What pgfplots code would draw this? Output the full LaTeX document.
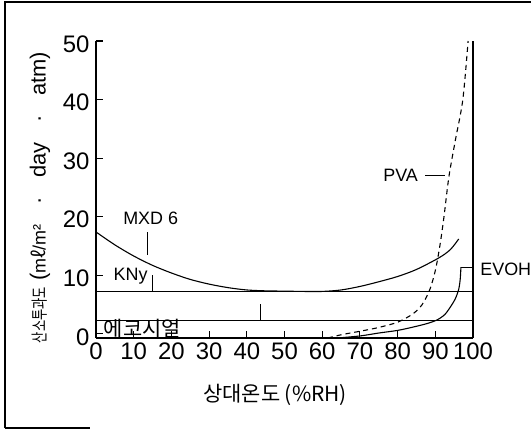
\documentclass[border=0pt]{standalone}
\usepackage{pgfplots}
\pgfplotsset{compat=1.18}
\usepackage{fontspec}
\setmainfont{Liberation Sans}
\newfontfamily\cjk{Noto Sans CJK KR}
\newfontfamily\cjkn[FakeStretch=0.72]{Noto Sans CJK KR}
\begin{document}
\begin{tikzpicture}[x=1bp,y=1bp]
\useasboundingbox (-96,-92) rectangle (435,338);
\begin{axis}[
  at={(0,0)}, anchor=south west,
  scale only axis, width=377bp, height=297bp,
  xmin=0, xmax=100, ymin=-0.7, ymax=50,
  axis x line*=bottom, axis y line*=left,
  axis line style={line width=1.3bp},
  tick align=inside,
  major tick length=7bp,
  every tick/.style={line width=1.1bp, black},
  xtick={0,10,...,100}, ytick={0,10,...,50},
  tick label style={font=\fontsize{24}{26}\selectfont},
  /pgf/number format/assume math mode=true,
  yticklabel style={xshift=-3bp, yshift=-3bp},
  xticklabel style={yshift=-1bp},
  clip=false,
]
% frame right side
\draw[line width=1.3bp] (rel axis cs:1,0) -- (rel axis cs:1,1);
% horizontal reference lines
\addplot[black, line width=1.1bp, sharp plot] coordinates {(0,7.3) (100,7.3)};
\addplot[black, line width=1.1bp, sharp plot] coordinates {(0,2.3) (100,2.3)};
% MXD 6
\addplot[black, line width=1.1bp, smooth] coordinates {(0,17.4) (5,15.2) (10,13.3) (15,11.7) (20,10.4) (25,9.3) (30,8.5) (35,7.9) (40,7.5) (45,7.35) (50,7.3) (55,7.25) (60,7.25) (65,7.5) (70,8.1) (75,8.9) (80,9.8) (85,11.0) (91,13.0) (94,14.4) (96.2,16.2)};
% PVA (dashed)
\addplot[black, line width=1.1bp, smooth, dash pattern=on 5bp off 4bp] coordinates {(61.5,-0.7) (65,-0.15) (70,0.45) (75,1.1) (80,2.0) (84,3.4) (86.5,5) (88.5,7.5) (90,10.8) (91.2,15) (92.3,20) (93.6,26.8) (95.3,33) (97.3,40) (98.7,50)};
% EVOH
\addplot[black, line width=1.1bp, smooth] coordinates {(64,-0.7) (70,-0.35) (75,0.15) (80,0.6) (84,1.15) (88,1.8) (90.5,2.4) (92.5,3.3) (94,4.6) (95.3,6) (96.2,7.6) (96.6,9.3) (96.8,11.4)};
% leader lines
\addplot[black, line width=1.1bp, sharp plot] coordinates {(13.7,13.5) (13.7,17.4)};
\addplot[black, line width=1.1bp, sharp plot] coordinates {(15,7.3) (15,10)};
\addplot[black, line width=1.1bp, sharp plot] coordinates {(43.7,2.3) (43.7,5.1)};
\addplot[black, line width=1.1bp, sharp plot] coordinates {(87.3,27.1) (92.6,27.1)};
\addplot[black, line width=1.1bp, sharp plot] coordinates {(96.8,11.4) (100,11.4)};
% labels
\node[font=\fontsize{18}{20}\selectfont] at (axis cs:14.5,19.7) {MXD 6};
\node[font=\fontsize{18}{20}\selectfont] at (axis cs:9.2,9.8) {KNy};
\node[font=\fontsize{21}{23}\selectfont\cjk, inner sep=0pt] at (axis cs:12.3,0.85) {에코시얼};
\node[font=\fontsize{18}{20}\selectfont] at (axis cs:80.8,27.0) {PVA};
\node[font=\fontsize{18}{20}\selectfont, anchor=west, inner sep=0pt] at (axis cs:101.9,11.0) {EVOH};
\node[font=\fontsize{21}{23}\selectfont\cjk] at (axis cs:47.5,-10.4) {상대온도 (\%RH)};
\node[rotate=90, font=\fontsize{22}{24}\selectfont, inner sep=0pt] at (axis cs:-14.85,23.3) {{\fontsize{17}{19}\selectfont\cjkn 산소투과도} ({\fontsize{18}{20}\selectfont m{\cjk ℓ}/m²}\hspace{0.9em}·\hspace{0.9em}day\hspace{0.9em}·\hspace{0.9em}atm)};
\end{axis}
\draw[line width=1.6bp] (-91,-90) -- (-91,336) -- (435,336);
\draw[line width=1.6bp] (-91,-90) -- (-6,-90);
\end{tikzpicture}
\end{document}
